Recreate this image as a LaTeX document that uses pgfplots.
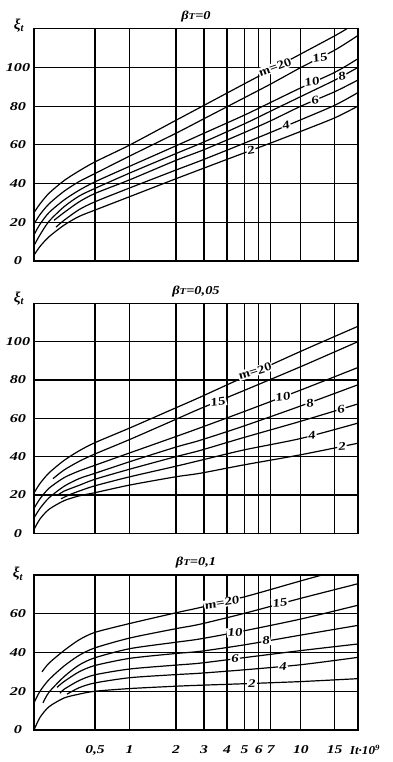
\documentclass[border=0pt]{standalone}
\usepackage{fontspec}
\setmainfont{Liberation Serif}
\usepackage{pgfplots}
\pgfplotsset{compat=1.18}
\newcommand\tf{\fontsize{12}{13}\selectfont\bfseries\itshape}
\newcommand\lf{\fontsize{11.5}{12}\selectfont\bfseries\itshape}
\newcommand\bT[1]{β{\fontsize{9}{9}\selectfont T}=#1}
\tikzset{lab/.style={fill=white, inner sep=0.8pt, font=\lf, xscale=1.3}}
\pgfplotsset{
  panel/.style={
    scale only axis, width=324pt, xmin=0, xmax=324, ymin=0,
    axis line style={line width=1.5pt},
    grid=major, grid style={black, line width=1.2pt},
    xtick={61,95.5,142,170,193,210.5,224.7,236.7,266.8,300.7},
    major tick length=0pt,
    xticklabels={},
    ytick={0,20,...,100},
    /pgf/number format/assume math mode=true,
    yticklabel style={anchor=center, xshift=-16pt, font=\tf, xscale=1.35},
    title style={at={(0.5,1)}, anchor=center, yshift=6pt, font=\tf, xscale=1.2},
    every axis plot post/.append style={black, solid, line width=1.2pt, smooth, tension=0.45, mark=none},
    clip=true,
  },
}
\begin{document}
\begin{tikzpicture}
\useasboundingbox (0pt,0pt) rectangle (392pt,762pt);
% ---------------- top panel
\begin{axis}[panel, name=A1, at={(34pt,501pt)}, anchor=south west, height=232.3pt, ymax=120, title={\bT{0}}]
\addplot coordinates {(0,25)(6,29.5)(15,35)(30,41.5)(45,46.5)(61,51.2)(96,60)(142,72.7)(170,80.4)(211,91.7)(237,98.8)(267,107)(301,116.4)(313,120)};
\addplot coordinates {(0,19)(6,24)(15,29.5)(30,36)(45,41)(61,45.2)(96,54.3)(142,66)(170,73.5)(211,84.5)(237,91.5)(267,100)(301,109)(324,116.5)};
\addplot coordinates {(0,13.5)(6,19)(15,25)(30,31.5)(45,36.5)(61,40.9)(96,49)(142,59.5)(170,66)(211,75.5)(237,82)(267,89.5)(301,97.5)(324,104.5)};
\addplot coordinates {(0,8)(6,13.5)(15,20.5)(30,28)(45,33.5)(61,37.5)(96,45.5)(142,55.5)(170,61.5)(211,71)(237,77.5)(267,85)(301,93.5)(324,100)};
\addplot coordinates {(20,21)(30,25)(45,30.5)(61,34.9)(96,42)(142,52)(170,57.5)(211,66.5)(237,72.5)(267,80)(301,87.5)(324,93.5)};
\addplot coordinates {(22,17.5)(30,21)(45,26.5)(61,30.6)(96,37.8)(142,47)(170,52.5)(211,61)(237,66.5)(267,73)(301,80.5)(324,87)};
\addplot coordinates {(0,3)(6,7.5)(15,12.5)(30,18.5)(45,23)(61,26.3)(96,33.3)(142,42.5)(170,48)(211,56)(237,61)(267,67)(301,74)(324,80)};
\node[lab, rotate=25] at (241,100) {m=20};
\node[lab, rotate=12] at (286,105) {15};
\node[lab, rotate=12] at (278,92.5) {10};
\node[lab, rotate=12] at (308,95.5) {8};
\node[lab, rotate=12] at (281,83) {6};
\node[lab, rotate=12] at (252,70) {4};
\node[lab, rotate=12] at (217,57.2) {2};
\end{axis}
% ---------------- middle panel
\begin{axis}[panel, name=A2, at={(34pt,228.7pt)}, anchor=south west, height=230pt, ymax=120, title={\bT{0,05}}]
\addplot coordinates {(0,21)(6,26)(15,31.5)(30,38)(45,43)(61,47.3)(96,55)(142,65.5)(166,71)(210,81.5)(267,95)(324,108)};
\addplot coordinates {(19,28.5)(30,33)(45,37.5)(61,41.4)(96,49)(142,59.5)(166,65)(210,74.5)(267,87)(324,100)};
\addplot coordinates {(0,13)(6,18)(15,23.5)(30,29)(45,32.5)(61,35.5)(96,42)(142,50.5)(166,55)(210,63.5)(267,74.8)(324,86.5)};
\addplot coordinates {(0,8)(6,13)(15,18.5)(30,24.5)(45,28.5)(61,31.3)(96,37.4)(142,45)(166,48.5)(210,56)(267,66.5)(324,77.5)};
\addplot coordinates {(24,20)(30,22)(45,25)(61,28.2)(96,33.5)(142,40)(166,43.2)(210,50)(267,58.5)(324,67.5)};
\addplot coordinates {(27,18)(35,20)(45,22)(61,24.8)(96,29.5)(142,35)(166,38)(210,43.5)(267,49.5)(324,57.5)};
\addplot coordinates {(0,2)(6,7.5)(15,12.5)(30,17)(45,19.5)(61,21.2)(96,25.2)(142,29.5)(166,31.3)(210,35.7)(267,41)(324,47)};
\node[lab, rotate=22] at (221,84.5) {m=20};
\node[lab, rotate=10] at (184,68.7) {15};
\node[lab, rotate=10] at (249,71.2) {10};
\node[lab, rotate=10] at (276,68) {8};
\node[lab, rotate=10] at (307,64.8) {6};
\node[lab, rotate=8] at (278,51) {4};
\node[lab, rotate=6] at (308,45.2) {2};
\end{axis}
% ---------------- bottom panel
\begin{axis}[panel, name=A3, at={(34pt,32pt)}, anchor=south west, height=155pt, ymax=80, ytick={0,20,40,60},
  title={\bT{0,1}},
  xticklabels={{0,5},1,2,3,4,5,6,7,10,15},
  xticklabel style={anchor=center, yshift=-20pt, font=\tf, xscale=1.3}]
\addplot coordinates {(8,30)(15,34.5)(30,41)(45,46.5)(61,50.4)(96,55)(142,60.5)(166,63.2)(211,68.8)(267,77)(288,80)};
\addplot coordinates {(0,14)(6,20)(15,26)(30,33)(45,38.5)(61,42.4)(96,47.5)(142,52.3)(166,54.6)(211,60.3)(267,68)(324,75.5)};
\addplot coordinates {(9,14)(15,19.5)(30,27.5)(45,33.5)(61,37.3)(96,42)(142,45.3)(166,47)(211,51.3)(267,57.3)(324,64.4)};
\addplot coordinates {(23,22)(30,25)(45,30)(61,33.3)(96,37)(142,39.5)(166,40.6)(211,44)(267,49)(324,54)};
\addplot coordinates {(26,19)(30,21)(45,25.5)(61,28.5)(96,31.5)(142,33.5)(166,34.5)(211,37.4)(267,41)(324,44.4)};
\addplot coordinates {(33,18.5)(45,21.8)(61,24.3)(96,27)(142,28.6)(166,29.3)(211,31.1)(267,33.7)(324,37.5)};
\addplot coordinates {(0,0)(6,6.5)(15,12)(30,16.5)(45,18.5)(61,20)(96,21.4)(142,22.6)(166,23.1)(211,23.9)(267,25)(324,26.5)};
\node[lab, rotate=12] at (188,65.8) {m=20};
\node[lab, rotate=8] at (246,65.6) {15};
\node[lab, rotate=6] at (201,50.4) {10};
\node[lab, rotate=6] at (232,46) {8};
\node[lab, rotate=4] at (201,36.8) {6};
\node[lab, rotate=4] at (249,32.7) {4};
\node[lab, rotate=2] at (218,24) {2};
\end{axis}
\node[font=\fontsize{15}{15}\selectfont\bfseries\itshape] at ([xshift=-15pt, yshift=3pt]A1.north west) {ξ\textsubscript{t}};
\node[font=\fontsize{15}{15}\selectfont\bfseries\itshape] at ([xshift=-15pt, yshift=5pt]A2.north west) {ξ\textsubscript{t}};
\node[font=\fontsize{15}{15}\selectfont\bfseries\itshape] at ([xshift=-16pt, yshift=1pt]A3.north west) {ξ\textsubscript{t}};
\node[font=\tf, xscale=1.1] at ([xshift=7pt, yshift=-20pt]A3.south east) {It·10\textsuperscript{9}};
\end{tikzpicture}
\end{document}
